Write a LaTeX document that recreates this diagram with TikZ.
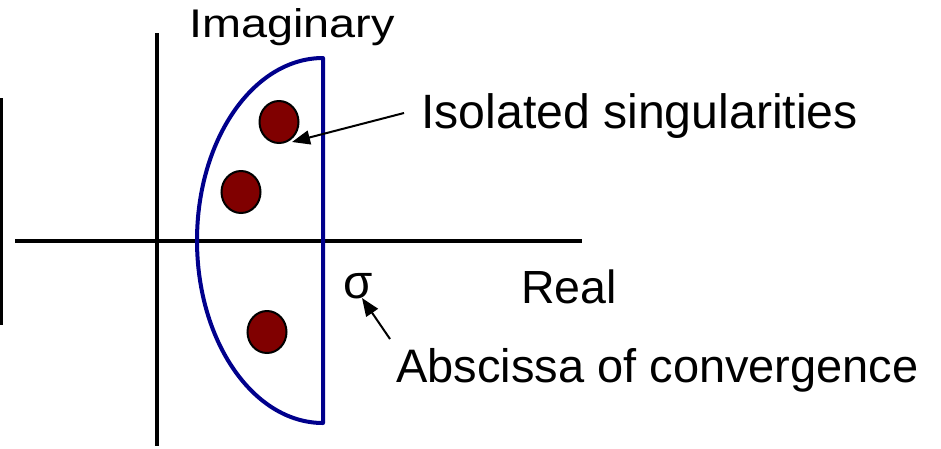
\documentclass[tikz,border=0pt]{standalone}
\usepackage{fontspec}
\setmainfont{Liberation Sans}
\usetikzlibrary{arrows.meta,shapes.geometric}
\definecolor{dotred}{RGB}{128,0,0}
\definecolor{curveblue}{RGB}{0,0,140}
\begin{document}
\begin{tikzpicture}[x=1pt,y=-1pt,
  axis/.style={line width=4pt,black},
  dot/.style={draw=black,line width=2pt,fill=dotred,ellipse,minimum width=39pt,minimum height=42pt,inner sep=0pt},
  lbl/.style={anchor=base west,inner sep=0pt,font=\fontsize{47.5}{50}\selectfont},
  pointer/.style={line width=2pt,-{Triangle[length=18pt,width=14pt]}}]
\useasboundingbox (0,0) rectangle (941,448);
% left bar
\coordinate (b1) at (1.5,98);
\coordinate (b2) at (1.5,325);
\draw[line width=3pt] (b1) -- (b2);
% axes
\coordinate (v1) at (157,33);
\coordinate (v2) at (157,446);
\coordinate (h1) at (15,241);
\coordinate (h2) at (582,241);
\draw[axis] (v1) -- (v2);
\draw[axis] (h1) -- (h2);
% region
\coordinate (rt) at (323,58);
\draw[curveblue,line width=4pt,line join=round] (rt) arc[start angle=90,end angle=270,x radius=126pt,y radius=182.5pt] -- cycle;
% dots
\node[dot] (d1) at (279,122) {};
\node[dot] (d2) at (241,192) {};
\node[dot] (d3) at (267,332) {};
% labels
\node[lbl,font=\fontsize{40}{44}\selectfont,xscale=1.17] (im) at (189,37) {Imaginary};
\node[lbl,font=\fontsize{48.2}{50}\selectfont] (iso) at (421,128) {Isolated singularities};
\node[lbl,font=\fontsize{46.5}{48}\selectfont] (re) at (521,303) {Real};
\node[lbl,font=\fontsize{47}{50}\selectfont] (ab) at (396,382) {Abscissa of convergence};
\node[lbl] (sig) at (343,298) {σ};
% pointers
\coordinate (p1) at (404,113);
\coordinate (t1) at (292,142);
\draw[pointer] (p1) -- (t1);
\coordinate (p2) at (390,339);
\coordinate (t2) at (362,298);
\draw[pointer] (p2) -- (t2);
\end{tikzpicture}
\end{document}
